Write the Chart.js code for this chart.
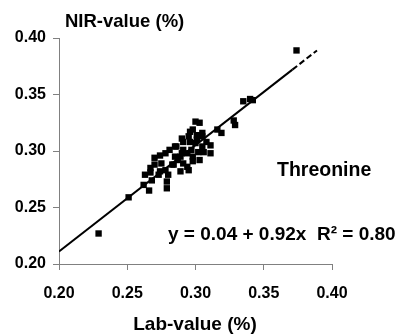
<!DOCTYPE html>
<html>
<head>
<meta charset="utf-8">
<script src="https://cdn.jsdelivr.net/npm/chart.js@4/dist/chart.umd.min.js"></script>
<style>
  html, body { margin: 0; padding: 0; background: #fff; }
  #wrap { width: 401px; height: 334px; }
</style>
</head>
<body>
<div id="wrap"><canvas id="scatterChart" width="401" height="334"></canvas></div>
<script>
// Lab value (x) and NIR value (y) per sample
const labValues = [
    0.229, 0.251, 0.262, 0.266, 0.279, 0.263, 0.267, 0.268, 0.270, 0.274,
    0.273, 0.278, 0.283, 0.279, 0.289, 0.289, 0.291, 0.281, 0.285, 0.291,
    0.296, 0.300, 0.303, 0.298, 0.301, 0.295, 0.290, 0.300, 0.305, 0.305,
    0.308, 0.301, 0.296, 0.290, 0.285, 0.298, 0.294, 0.297, 0.298, 0.303,
    0.294, 0.284, 0.311, 0.311, 0.306, 0.305, 0.316, 0.319, 0.328, 0.329,
    0.335, 0.340, 0.342, 0.374, 0.278, 0.275, 0.270, 0.280, 0.274, 0.267,
    0.287, 0.295, 0.286, 0.302, 0.291
];
const nirValues = [
    0.227, 0.259, 0.270, 0.265, 0.267, 0.279, 0.285, 0.274, 0.294, 0.296,
    0.279, 0.283, 0.288, 0.273, 0.282, 0.295, 0.289, 0.301, 0.304, 0.308,
    0.317, 0.326, 0.325, 0.319, 0.314, 0.313, 0.311, 0.307, 0.304, 0.313,
    0.308, 0.310, 0.308, 0.298, 0.295, 0.295, 0.298, 0.301, 0.291, 0.292,
    0.286, 0.288, 0.305, 0.298, 0.299, 0.316, 0.319, 0.316, 0.327, 0.323,
    0.344, 0.346, 0.345, 0.389, 0.298, 0.289, 0.288, 0.279, 0.282, 0.281,
    0.292, 0.283, 0.304, 0.299, 0.301
];

// regression line as drawn (last piece is dashed)
const fitX = [0.20, 0.371, 0.389];
const fitY = [0.211, 0.372, 0.389];

const axisTicks = [0.20, 0.25, 0.30, 0.35, 0.40];

const fontFamily = '"Liberation Sans", Arial, sans-serif';

const points = labValues.map((x, i) => ({ x: x, y: nirValues[i] }));
const fitLine = fitX.map((x, i) => ({ x: x, y: fitY[i] }));

// texts that are not part of the axes
const textPlugin = {
    id: 'texts',
    afterDraw(chart) {
        const ctx = chart.ctx;
        ctx.save();
        ctx.fillStyle = '#000';
        ctx.textBaseline = 'middle';
        ctx.font = 'bold 18.5px ' + fontFamily;
        ctx.textAlign = 'left';
        ctx.fillText('NIR-value (%)', 65, 22);
        ctx.textAlign = 'center';
        ctx.font = 'bold 19px ' + fontFamily;
        ctx.fillText('Lab-value (%)', 195, 325);
        ctx.font = 'bold 19.5px ' + fontFamily;
        ctx.textAlign = 'left';
        ctx.fillText('Threonine', 277, 171);
        ctx.font = 'bold 19px ' + fontFamily;
        ctx.fillText('y = 0.04 + 0.92x  R\u00B2 = 0.80', 168, 235);
        ctx.restore();
    }
};

const chartConfig = {
    type: 'scatter',
    data: {
        datasets: [{
            label: 'Samples',
            data: points,
            backgroundColor: '#000',
            borderWidth: 0,
            pointStyle: 'rect',
            pointRadius: 4.5,
            order: 1
        }, {
            type: 'line',
            label: 'Fit',
            data: fitLine,
            borderColor: '#000',
            borderWidth: 2,
            pointRadius: 0,
            fill: false,
            segment: {
                borderDash: ctx => ctx.p0DataIndex === 1 ? [6, 3] : undefined
            },
            order: 0
        }]
    },
    options: {
        responsive: false,
        animation: false,
        layout: { padding: { top: 38, right: 69, left: 0, bottom: 0 } },
        plugins: {
            legend: { display: false },
            tooltip: { enabled: false }
        },
        scales: {
            x: {
                type: 'linear',
                min: 0.20,
                max: 0.40,
                afterBuildTicks: scale => { scale.ticks = axisTicks.map(v => ({ value: v })); },
                afterFit: scale => { scale.height = 70; },
                border: { display: true, color: '#808080', width: 1 },
                grid: { drawOnChartArea: false, drawTicks: true, tickLength: 6, color: '#808080' },
                ticks: {
                    padding: 14,
                    color: '#000',
                    font: { family: fontFamily, size: 16, weight: 'bold' },
                    callback: v => v.toFixed(2)
                }
            },
            y: {
                type: 'linear',
                min: 0.20,
                max: 0.40,
                afterBuildTicks: scale => { scale.ticks = axisTicks.map(v => ({ value: v })); },
                afterFit: scale => { scale.width = 59; },
                border: { display: true, color: '#808080', width: 1 },
                grid: { drawOnChartArea: false, drawTicks: true, tickLength: 6, color: '#808080' },
                ticks: {
                    padding: 7,
                    color: '#000',
                    font: { family: fontFamily, size: 16, weight: 'bold' },
                    callback: v => v.toFixed(2)
                }
            }
        }
    },
    plugins: [textPlugin]
};

const scatterChart = new Chart(document.getElementById('scatterChart'), chartConfig);
</script>
</body>
</html>
